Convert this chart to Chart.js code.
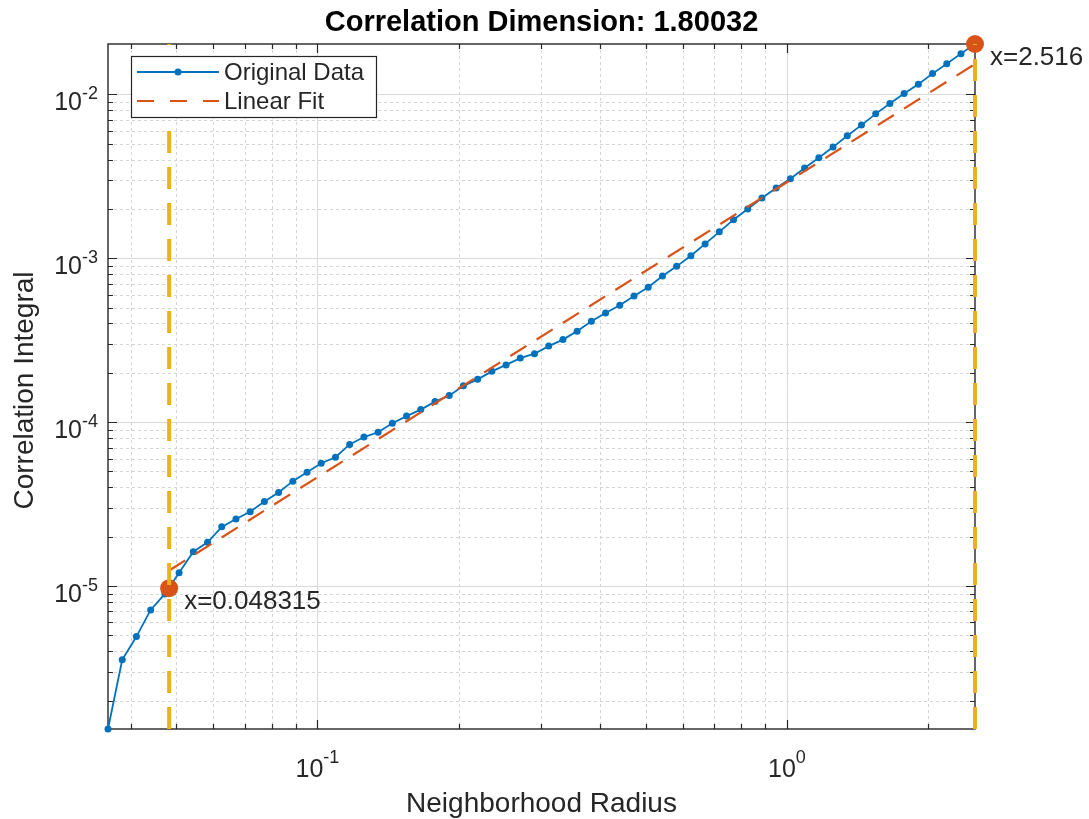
<!DOCTYPE html>
<html>
<head>
<meta charset="utf-8">
<script src="https://cdn.jsdelivr.net/npm/chart.js@4.4.1/dist/chart.umd.min.js"></script>
<style>
html,body{margin:0;padding:0;background:#fff;}
#wrap{width:1089px;height:819px;position:relative;}
</style>
</head>
<body>
<div id="wrap"><canvas id="c" width="1089" height="819"></canvas></div>
<script>
// ---------------- data ----------------
const radius = [0.035797, 0.038382, 0.041154, 0.044126, 0.047313, 0.050730, 0.054394, 0.058322, 0.062534, 0.067050,
  0.071892, 0.077084, 0.082651, 0.088620, 0.095020, 0.10188, 0.10924, 0.11713, 0.12559, 0.13466,
  0.14438, 0.15481, 0.16599, 0.17798, 0.19083, 0.20461, 0.21939, 0.23523, 0.25222, 0.27044,
  0.28997, 0.31091, 0.33336, 0.35744, 0.38325, 0.41093, 0.44061, 0.47243, 0.50655, 0.54313,
  0.58235, 0.62441, 0.66950, 0.71785, 0.76970, 0.82528, 0.88488, 0.94879, 1.0173, 1.0908,
  1.1696, 1.2540, 1.3446, 1.4417, 1.5458, 1.6574, 1.7771, 1.9055, 2.0431, 2.1906,
  2.3488, 2.5160];
const corrIntegral = [1.342e-6, 3.547e-6, 4.917e-6, 7.152e-6, 8.953e-6, 1.207e-5, 1.620e-5, 1.848e-5, 2.297e-5, 2.563e-5,
  2.838e-5, 3.275e-5, 3.726e-5, 4.365e-5, 4.940e-5, 5.620e-5, 6.112e-5, 7.315e-5, 8.112e-5, 8.680e-5,
  9.847e-5, 1.089e-4, 1.193e-4, 1.335e-4, 1.452e-4, 1.666e-4, 1.825e-4, 2.042e-4, 2.236e-4, 2.460e-4,
  2.617e-4, 2.911e-4, 3.189e-4, 3.593e-4, 4.133e-4, 4.638e-4, 5.173e-4, 5.885e-4, 6.658e-4, 7.788e-4,
  8.927e-4, 1.036e-3, 1.224e-3, 1.450e-3, 1.720e-3, 1.999e-3, 2.332e-3, 2.684e-3, 3.057e-3, 3.553e-3,
  4.104e-3, 4.770e-3, 5.590e-3, 6.494e-3, 7.606e-3, 8.790e-3, 1.011e-2, 1.154e-2, 1.339e-2, 1.540e-2,
  1.773e-2, 2.030e-2];
const fitRadius = [0.048315, 2.516];
const fitIntegral = [1.245e-5, 1.533e-2];
const boundRadius = [0.048315, 2.516];
const boundIntegral = [9.70e-6, 2.030e-2];
const boundLabels = ['x=0.048315', 'x=2.516'];
const xTickValues = [0.04, 0.05, 0.06, 0.07, 0.08, 0.09, 0.1, 0.2, 0.3, 0.4, 0.5, 0.6, 0.7, 0.8, 0.9, 1, 2];
const yTickValues = [2e-6, 3e-6, 4e-6, 5e-6, 6e-6, 7e-6, 8e-6, 9e-6,
  1e-5, 2e-5, 3e-5, 4e-5, 5e-5, 6e-5, 7e-5, 8e-5, 9e-5,
  1e-4, 2e-4, 3e-4, 4e-4, 5e-4, 6e-4, 7e-4, 8e-4, 9e-4,
  1e-3, 2e-3, 3e-3, 4e-3, 5e-3, 6e-3, 7e-3, 8e-3, 9e-3, 1e-2];
const seriesLabels = ['Original Data', 'Linear Fit'];
const titleText = 'Correlation Dimension: 1.80032';
const xLabelText = 'Neighborhood Radius';
const yLabelText = 'Correlation Integral';

// ---------------- styling ----------------
const FONT = '"Liberation Sans", Arial, Helvetica, sans-serif';
const INK = '#262626';
const BLUE = '#0072BD', ORANGE = '#D95319', YELLOW = '#EDB120';

const xMin = Math.min(...radius), xMax = Math.max(...radius);
const yMin = Math.min(...corrIntegral), yMax = Math.max(...corrIntegral);

function isDecade(v) { const l = Math.log10(v); return Math.abs(l - Math.round(l)) < 1e-9; }
function expOf(v) { return Math.round(Math.log10(v)); }

const matlabLook = {
  id: 'matlabLook',
  beforeDatasetsDraw(chart) {
    const {ctx, chartArea: a, scales: {x, y}} = chart;
    ctx.save();
    ctx.lineWidth = 1;
    const drawGrid = (major) => {
      ctx.setLineDash(major ? [] : [3, 3]);
      ctx.strokeStyle = major ? '#dadada' : '#d4d4d4';
      x.ticks.forEach(t => {
        if (!!t.major !== major) return;
        const px = Math.round(x.getPixelForValue(t.value)) + 0.5;
        if (px <= a.left + 1 || px >= a.right - 1) return;
        ctx.beginPath(); ctx.moveTo(px, a.top); ctx.lineTo(px, a.bottom); ctx.stroke();
      });
      y.ticks.forEach(t => {
        if (!!t.major !== major) return;
        const py = Math.round(y.getPixelForValue(t.value)) + 0.5;
        if (py <= a.top + 1 || py >= a.bottom - 1) return;
        ctx.beginPath(); ctx.moveTo(a.left, py); ctx.lineTo(a.right, py); ctx.stroke();
      });
    };
    drawGrid(false);
    drawGrid(true);
    ctx.setLineDash([]);
    ctx.strokeStyle = INK;
    ctx.lineWidth = 1.4;
    ctx.strokeRect(a.left, a.top, a.right - a.left, a.bottom - a.top);
    ctx.lineWidth = 1.2;
    x.ticks.forEach(t => {
      const len = t.major ? 9 : 5;
      const px = Math.round(x.getPixelForValue(t.value)) + 0.5;
      ctx.beginPath();
      ctx.moveTo(px, a.bottom); ctx.lineTo(px, a.bottom - len);
      ctx.moveTo(px, a.top); ctx.lineTo(px, a.top + len);
      ctx.stroke();
    });
    y.ticks.forEach(t => {
      const len = t.major ? 9 : 5;
      const py = Math.round(y.getPixelForValue(t.value)) + 0.5;
      ctx.beginPath();
      ctx.moveTo(a.left, py); ctx.lineTo(a.left + len, py);
      ctx.moveTo(a.right, py); ctx.lineTo(a.right - len, py);
      ctx.stroke();
    });
    ctx.restore();
  },
  afterDraw(chart) {
    const {ctx, chartArea: a, scales: {x, y}} = chart;
    ctx.save();
    ctx.fillStyle = INK;
    const baseFont = '25px ' + FONT, supFont = '18px ' + FONT;
    ctx.textBaseline = 'alphabetic';
    x.ticks.filter(t => t.major).forEach(t => {
      const px = x.getPixelForValue(t.value);
      const e = String(expOf(t.value));
      ctx.font = baseFont; const w1 = ctx.measureText('10').width;
      ctx.font = supFont; const w2 = ctx.measureText(e).width;
      const start = px - (w1 + w2) / 2;
      ctx.textAlign = 'left';
      ctx.font = baseFont; ctx.fillText('10', start, a.bottom + 48);
      ctx.font = supFont; ctx.fillText(e, start + w1, a.bottom + 34);
    });
    y.ticks.filter(t => t.major).forEach(t => {
      const py = y.getPixelForValue(t.value);
      const e = String(expOf(t.value));
      ctx.font = supFont; const w2 = ctx.measureText(e).width;
      ctx.font = baseFont; const w1 = ctx.measureText('10').width;
      const right = a.left - 10;
      ctx.textAlign = 'left';
      ctx.font = baseFont; ctx.fillText('10', right - w2 - w1, py + 16);
      ctx.font = supFont; ctx.fillText(e, right - w2, py + 5);
    });
    ctx.font = '28px ' + FONT;
    ctx.textAlign = 'center';
    ctx.fillText(xLabelText, (a.left + a.right) / 2, 812);
    ctx.save();
    ctx.translate(33, (a.top + a.bottom) / 2 + 4);
    ctx.rotate(-Math.PI / 2);
    ctx.fillText(yLabelText, 0, 0);
    ctx.restore();
    ctx.fillStyle = '#000';
    ctx.font = 'bold 29px ' + FONT;
    ctx.fillText(titleText, (a.left + a.right) / 2, 31);
    ctx.fillStyle = INK;
    ctx.font = '26px ' + FONT;
    ctx.textAlign = 'left';
    boundRadius.forEach((r, i) => {
      const px = x.getPixelForValue(r), py = y.getPixelForValue(boundIntegral[i]);
      ctx.fillText(boundLabels[i], px + 15, py + 21);
    });
    const lx = a.left + 23, ly = a.top + 12, lw = 245, lh = 61;
    ctx.fillStyle = '#fff';
    ctx.fillRect(lx, ly, lw, lh);
    ctx.strokeStyle = INK; ctx.lineWidth = 1.2;
    ctx.strokeRect(lx + 0.5, ly + 0.5, lw, lh);
    const r1 = ly + 16, r2 = ly + 45;
    ctx.lineWidth = 1.8;
    ctx.strokeStyle = BLUE;
    ctx.beginPath(); ctx.moveTo(lx + 6, r1); ctx.lineTo(lx + 88, r1); ctx.stroke();
    ctx.fillStyle = BLUE;
    ctx.beginPath(); ctx.arc(lx + 47, r1, 3.5, 0, Math.PI * 2); ctx.fill();
    ctx.strokeStyle = ORANGE;
    ctx.lineWidth = 2.2;
    ctx.setLineDash([17, 16]);
    ctx.beginPath(); ctx.moveTo(lx + 6, r2); ctx.lineTo(lx + 88, r2); ctx.stroke();
    ctx.setLineDash([]);
    ctx.fillStyle = INK;
    ctx.font = '24px ' + FONT;
    ctx.textBaseline = 'middle';
    ctx.fillText(seriesLabels[0], lx + 93, r1 + 1);
    ctx.fillText(seriesLabels[1], lx + 93, r2 + 1);
    ctx.restore();
  }
};

const pts = (xs, ys) => xs.map((v, i) => ({x: v, y: ys[i]}));

new Chart(document.getElementById('c'), {
  type: 'line',
  data: {
    datasets: [
      {label: 'bound-left', data: [{x: boundRadius[0], y: yMin}, {x: boundRadius[0], y: yMax}],
        borderColor: YELLOW, borderWidth: 4, borderDash: [22, 14], pointRadius: 0, clip: false},
      {label: 'bound-right', data: [{x: boundRadius[1], y: yMin}, {x: boundRadius[1], y: yMax}],
        borderColor: YELLOW, borderWidth: 4, borderDash: [22, 14], pointRadius: 0, clip: false},
      {label: 'bounds', data: pts(boundRadius, boundIntegral), showLine: false,
        pointRadius: 9, pointBackgroundColor: ORANGE, pointBorderColor: ORANGE, pointBorderWidth: 0, clip: false},
      {label: seriesLabels[1], data: pts(fitRadius, fitIntegral),
        borderColor: ORANGE, borderWidth: 2.2, borderDash: [19, 12], pointRadius: 0, fill: false},
      {label: seriesLabels[0], data: pts(radius, corrIntegral),
        borderColor: BLUE, borderWidth: 1.8, pointRadius: 3.5, pointBackgroundColor: BLUE,
        pointBorderColor: BLUE, pointBorderWidth: 0, fill: false, tension: 0, clip: false}
    ]
  },
  options: {
    responsive: false,
    animation: false,
    devicePixelRatio: 1,
    events: [],
    layout: {padding: {left: 108, top: 44, right: 114, bottom: 90}},
    plugins: {legend: {display: false}, title: {display: false}, tooltip: {enabled: false}},
    scales: {
      x: {
        type: 'logarithmic', min: xMin, max: xMax,
        afterBuildTicks: s => { s.ticks = xTickValues.map(v => ({value: v, major: isDecade(v)})); },
        afterFit: s => { s.height = 0; },
        ticks: {display: false}, grid: {display: false, drawTicks: false}, border: {display: false}
      },
      y: {
        type: 'logarithmic', min: yMin, max: yMax,
        afterBuildTicks: s => { s.ticks = yTickValues.map(v => ({value: v, major: isDecade(v)})); },
        afterFit: s => { s.width = 0; },
        ticks: {display: false}, grid: {display: false, drawTicks: false}, border: {display: false}
      }
    }
  },
  plugins: [matlabLook]
});
</script>
</body>
</html>
